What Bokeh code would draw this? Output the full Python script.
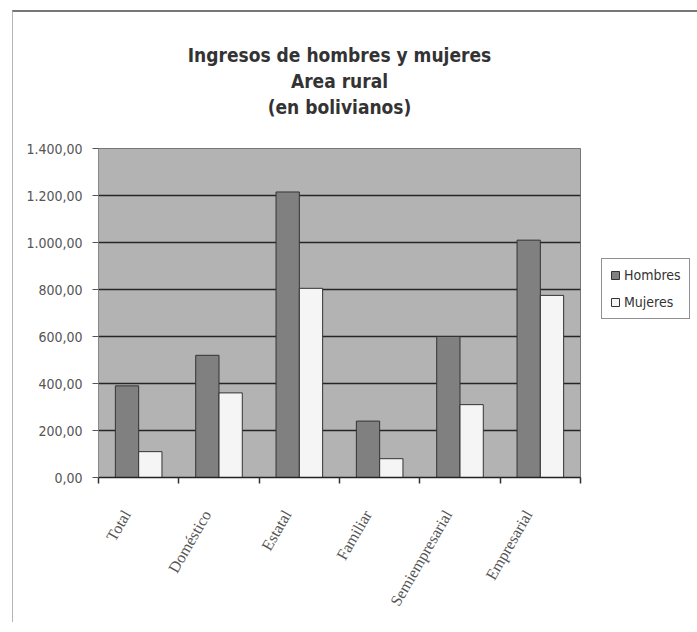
import numpy as np
from bokeh.plotting import figure
from bokeh.models import (ColumnDataSource, Range1d, FixedTicker, Legend, Title,
                          LinearAxis)
from bokeh.transform import dodge
from bokeh.embed import file_html
from bokeh.resources import INLINE

categories = ["Total", "Doméstico", "Estatal", "Familiar", "Semiempresarial", "Empresarial"]
hombres = [390, 520, 1215, 240, 600, 1010]
mujeres = [110, 360, 805, 80, 310, 775]
y_ticks = [0, 200, 400, 600, 800, 1000, 1200, 1400]
title_lines = ["Ingresos de hombres y mujeres", "Area rural", "(en bolivianos)"]


def fmt(v):
    s = f"{v:,.2f}"
    return s.replace(",", "X").replace(".", ",").replace("X", ".")


NARROW = "'Liberation Sans Narrow', 'DejaVu Sans Condensed', 'Liberation Sans', sans-serif"
n = len(categories)
pos = list(np.arange(n) + 0.5)
src = ColumnDataSource(dict(cat=categories, pos=pos, hombres=hombres, mujeres=mujeres))

p = figure(x_range=Range1d(0, n), y_range=Range1d(0, 1400),
           frame_width=482, frame_height=329,
           min_border_left=85, min_border_right=105,
           min_border_top=136, min_border_bottom=145,
           output_backend="svg", toolbar_location=None,
           background_fill_color="#b3b3b3", border_fill_color="white",
           outline_line_color="#777777", outline_line_width=1)
p.styles = {"margin-left": "12px", "margin-top": "10px",
            "border-top": "2px solid #777777", "border-left": "1px solid #b5b5b5"}

xaxis = p.xaxis[0]
xaxis.ticker = FixedTicker(ticks=list(range(n + 1)))
xaxis.major_label_overrides = {i: "" for i in range(n + 1)}
xaxis.major_label_text_font_size = "0px"
xaxis.major_label_standoff = 0
xaxis.axis_line_color = "#222222"
xaxis.axis_line_width = 1.5
xaxis.major_tick_line_color = "#333333"
xaxis.major_tick_line_width = 1.5
xaxis.major_tick_out = 6
xaxis.major_tick_in = 0
xaxis.minor_tick_out = 0
xaxis.minor_tick_in = 0

# category names, nudged a little left of the bar-pair centres
p.extra_x_ranges = {"lab": Range1d(0.15, n + 0.15)}
cat_axis = LinearAxis(x_range_name="lab", ticker=FixedTicker(ticks=pos),
                      major_label_overrides={pv: c for pv, c in zip(pos, categories)})
cat_axis.axis_line_color = None
cat_axis.major_tick_line_color = None
cat_axis.minor_tick_line_color = None
cat_axis.major_label_orientation = np.pi / 3
cat_axis.major_label_standoff = 22
cat_axis.major_label_text_font = "Liberation Serif"
cat_axis.major_label_text_font_size = "16px"
cat_axis.major_label_text_color = "#555555"
p.add_layout(cat_axis, "below")

yax = p.yaxis[0]
yax.ticker = FixedTicker(ticks=y_ticks)
yax.major_label_overrides = {t: fmt(t) for t in y_ticks}
yax.major_label_text_font = NARROW
yax.major_label_text_font_size = "14px"
yax.major_label_text_color = "#555555"
yax.axis_line_color = "#888888"
yax.major_tick_line_color = "#555555"
yax.major_tick_out = 6
yax.major_tick_in = 0
yax.minor_tick_out = 0
yax.minor_tick_in = 0
yax.major_label_standoff = 10

p.xgrid.visible = False
p.ygrid.ticker = FixedTicker(ticks=y_ticks)
p.ygrid.grid_line_color = "#262626"
p.ygrid.grid_line_width = 1.5

rh = p.vbar(x=dodge("pos", -0.145), top="hombres", width=0.29,
            source=src, fill_color="#808080", line_color="#333333", line_width=1)
rm = p.vbar(x=dodge("pos", 0.145), top="mujeres", width=0.29,
            source=src, fill_color="#f5f5f5", line_color="#333333", line_width=1)

# spacer between frame and the title block
p.add_layout(Title(text=" ", text_font_size="24px", standoff=1), "above")
# titles: first added sits closest to the frame
for txt in reversed(title_lines):
    p.add_layout(Title(text=txt, align="center", text_font=NARROW,
                       text_font_style="bold", text_font_size="19px",
                       text_color="#333333", standoff=2),
                 "above")

legend = Legend(items=[("Hombres", [rh]), ("Mujeres", [rm])], location=(21, 158))
legend.border_line_color = "#222222"
legend.border_line_width = 1.5
legend.background_fill_color = "white"
legend.label_text_font = NARROW
legend.label_text_font_size = "14px"
legend.label_text_color = "#333333"
legend.glyph_width = 10
legend.glyph_height = 10
legend.padding = 8
legend.spacing = 11
legend.label_standoff = 4
legend.margin = 0
p.add_layout(legend, "right")

open("out.html", "w").write(file_html(p, INLINE))
